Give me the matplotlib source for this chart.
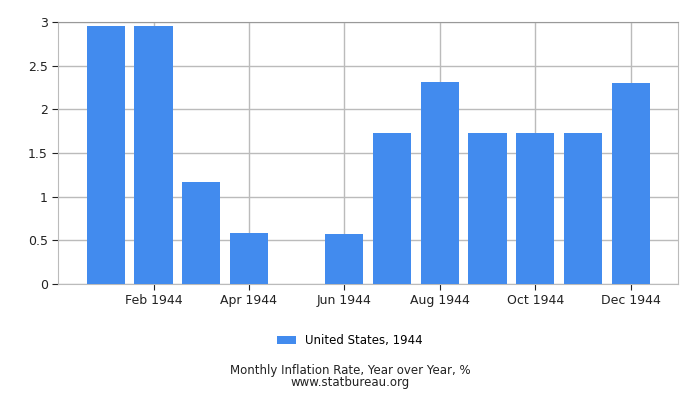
import matplotlib
matplotlib.use("Agg")
import matplotlib.pyplot as plt

months = ['Jan 1944', 'Feb 1944', 'Mar 1944', 'Apr 1944', 'May 1944', 'Jun 1944',
          'Jul 1944', 'Aug 1944', 'Sep 1944', 'Oct 1944', 'Nov 1944', 'Dec 1944']
inflation = [2.96, 2.96, 1.17, 0.58, 0.0, 0.57, 1.73, 2.32, 1.73, 1.73, 1.73, 2.30]
series_name = 'United States, 1944'

fig = plt.figure(figsize=(7, 4), dpi=100)
ax = fig.add_axes([0.083, 0.291, 0.886, 0.653])

x = list(range(len(months)))
ax.bar(x, inflation, width=0.8, color='#428bee', label=series_name, zorder=3)

ax.set_xlim(-1, len(months))
ax.set_ylim(0, 3)
ax.set_xticks(x[1::2])
ax.set_xticklabels(months[1::2], fontsize=9, color='#222222')
ax.set_yticks([0, 0.5, 1, 1.5, 2, 2.5, 3])
ax.set_yticklabels(['0', '0.5', '1', '1.5', '2', '2.5', '3'], fontsize=9, color='#222222')
ax.grid(True, color='#bbbbbb', linewidth=1, zorder=0)
ax.tick_params(axis='both', length=4, color='#222222')
for s in ax.spines.values():
    s.set_color('#bbbbbb')
ax.spines['top'].set_color('#999999')

fig.legend(loc='center', bbox_to_anchor=(0.5, 0.148), frameon=False, fontsize=8.5,
           handlelength=1.6, handleheight=0.7)
# title and source as one two-line text, lines set close like the original
fig.text(0.5, 0.059, 'Monthly Inflation Rate, Year over Year, %\nwww.statbureau.org',
         ha='center', va='center', fontsize=8.5, color='#222222', linespacing=0.95,
         multialignment='center')

fig.savefig('out.png', dpi=100)
